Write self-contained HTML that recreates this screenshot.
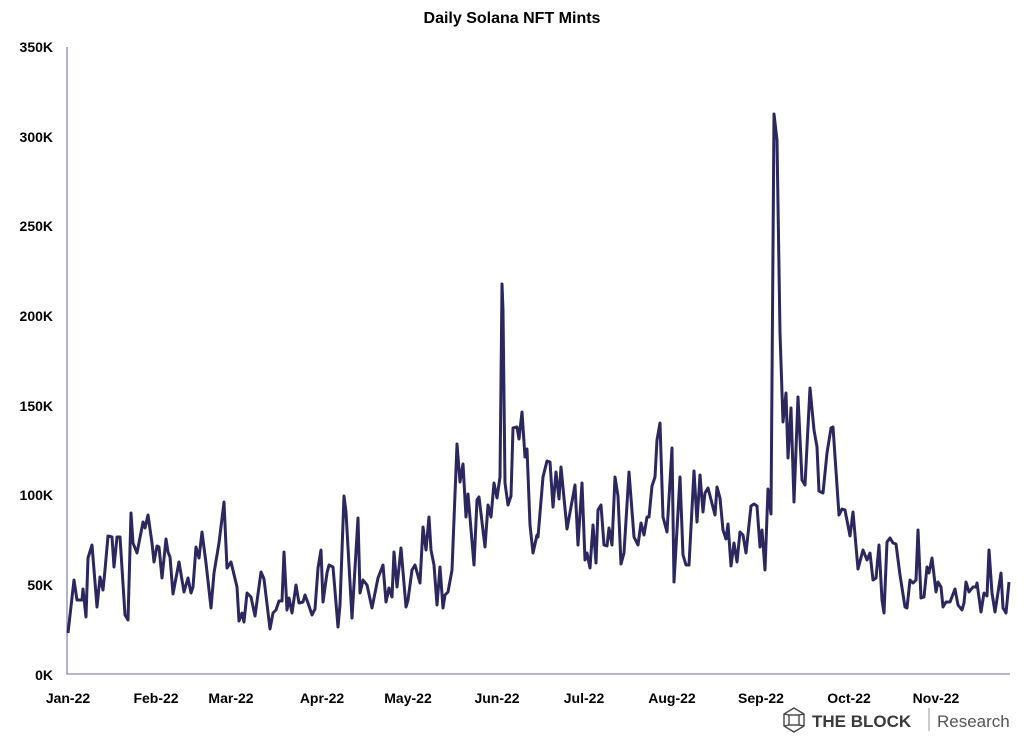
<!DOCTYPE html>
<html><head><meta charset="utf-8"><style>
body{margin:0;background:#fff;}
svg text{font-family:"Liberation Sans",sans-serif;font-weight:bold;fill:#000;}
</style></head><body>
<svg width="1024" height="737" viewBox="0 0 1024 737" xmlns="http://www.w3.org/2000/svg">
<text x="512" y="23" font-size="16" text-anchor="middle">Daily Solana NFT Mints</text>
<g font-size="14" text-anchor="end">
<text x="53" y="52">350K</text>
<text x="53" y="142">300K</text>
<text x="53" y="231">250K</text>
<text x="53" y="321">200K</text>
<text x="53" y="411">150K</text>
<text x="53" y="500">100K</text>
<text x="53" y="590">50K</text>
<text x="53" y="680">0K</text>
</g>
<g font-size="14" text-anchor="middle">
<text x="68" y="703">Jan-22</text>
<text x="156" y="703">Feb-22</text>
<text x="231" y="703">Mar-22</text>
<text x="322" y="703">Apr-22</text>
<text x="408" y="703">May-22</text>
<text x="497" y="703">Jun-22</text>
<text x="584" y="703">Jul-22</text>
<text x="672" y="703">Aug-22</text>
<text x="761" y="703">Sep-22</text>
<text x="849" y="703">Oct-22</text>
<text x="936" y="703">Nov-22</text>
</g>
<polyline points="67,47 67,674 1010,674" fill="none" stroke="#8c89b8" stroke-width="1.3"/>
<polyline fill="none" stroke="#2b275f" stroke-width="3" stroke-linejoin="round" points="68,633 74,580 77,600 82,600 83,589 86,617 88,558 92,545 97,607 100,577 103,590 105,570 108,536 112,537 114,567 117,537 120,537 125,615 128,620 131,513 133,543 137,553 143,522 145,528 148,515 152,543 154,562 157,546 159,547 162,578 166,539 168,552 170,557 173,594 179,562 184,592 188,578 191,593 193,587 196,547 199,558 202,532 206,563 211,608 214,573 219,543 224,502 227,568 231,562 237,587 239,621 242,613 244,622 247,593 251,597 255,616 261,572 264,579 270,629 273,613 276,610 279,601 282,601 284,552 287,610 289,598 292,613 296,585 299,603 303,602 305,595 308,603 312,615 315,609 318,568 321,550 323,602 327,573 329,565 333,567 338,627 340,605 344,496 346,512 352,618 358,518 360,593 363,580 367,585 372,608 378,578 383,565 386,602 389,588 392,597 394,552 397,587 401,548 406,607 408,600 412,570 415,565 420,583 423,527 426,550 429,517 431,550 434,565 437,605 440,567 443,608 445,595 448,592 452,570 457,444 460,482 463,464 466,517 468,494 474,565 477,500 479,497 485,547 488,505 491,517 494,483 497,498 500,477 502,284 503,310 505,483 508,505 511,496 513,428 517,427 519,439 522,412 525,457 527,449 530,525 533,553 537,535 538,537 543,477 547,461 550,462 553,507 556,472 559,499 561,467 567,529 575,485 578,545 582,483 585,560 587,553 590,568 593,525 596,563 598,510 601,505 604,545 607,546 609,528 612,545 615,477 618,496 621,564 624,553 629,472 634,537 638,545 641,523 644,535 647,517 649,517 652,486 655,477 657,440 660,423 663,517 667,532 672,448 674,582 680,477 683,555 686,565 689,565 694,471 697,522 700,475 703,512 705,493 708,488 715,515 717,487 720,498 723,530 726,539 728,524 731,566 734,543 737,562 740,532 743,535 746,553 751,506 754,504 757,506 760,547 762,530 765,570 768,489 771,514 774,114 777,140 780,333 783,422 786,393 788,458 791,408 794,502 798,397 802,480 805,485 810,388 814,430 817,447 819,491 823,493 827,453 831,428 833,427 839,515 842,509 845,510 850,536 853,512 858,569 863,550 867,560 870,553 873,580 876,578 879,545 882,600 884,613 887,542 890,538 893,543 896,544 900,575 905,607 907,608 910,580 913,583 916,580 918,530 921,598 924,597 927,567 929,573 932,558 936,592 938,582 941,587 943,607 946,602 950,602 955,589 958,605 962,610 964,603 966,582 969,592 973,587 976,587 977,583 981,612 984,593 987,596 989,550 992,593 995,612 1001,573 1003,608 1006,613 1009,582"/>
<g stroke="#444" stroke-width="1.4" fill="none">
<polygon points="794,708 804,714 804,726 794,732 784,726 784,714"/>
<rect x="789" y="715" width="10" height="10"/>
<line x1="784" y1="714" x2="789" y2="715"/><line x1="804" y1="714" x2="799" y2="715"/>
<line x1="784" y1="726" x2="789" y2="725"/><line x1="804" y1="726" x2="799" y2="725"/>
</g>
<text x="812" y="727" font-size="17" style="fill:#3a3a3a">THE BLOCK</text>
<line x1="929" y1="708" x2="929" y2="731" stroke="#999" stroke-width="1"/>
<text x="937" y="727" font-size="17" style="font-weight:normal;fill:#555">Research</text>
</svg>
</body></html>
